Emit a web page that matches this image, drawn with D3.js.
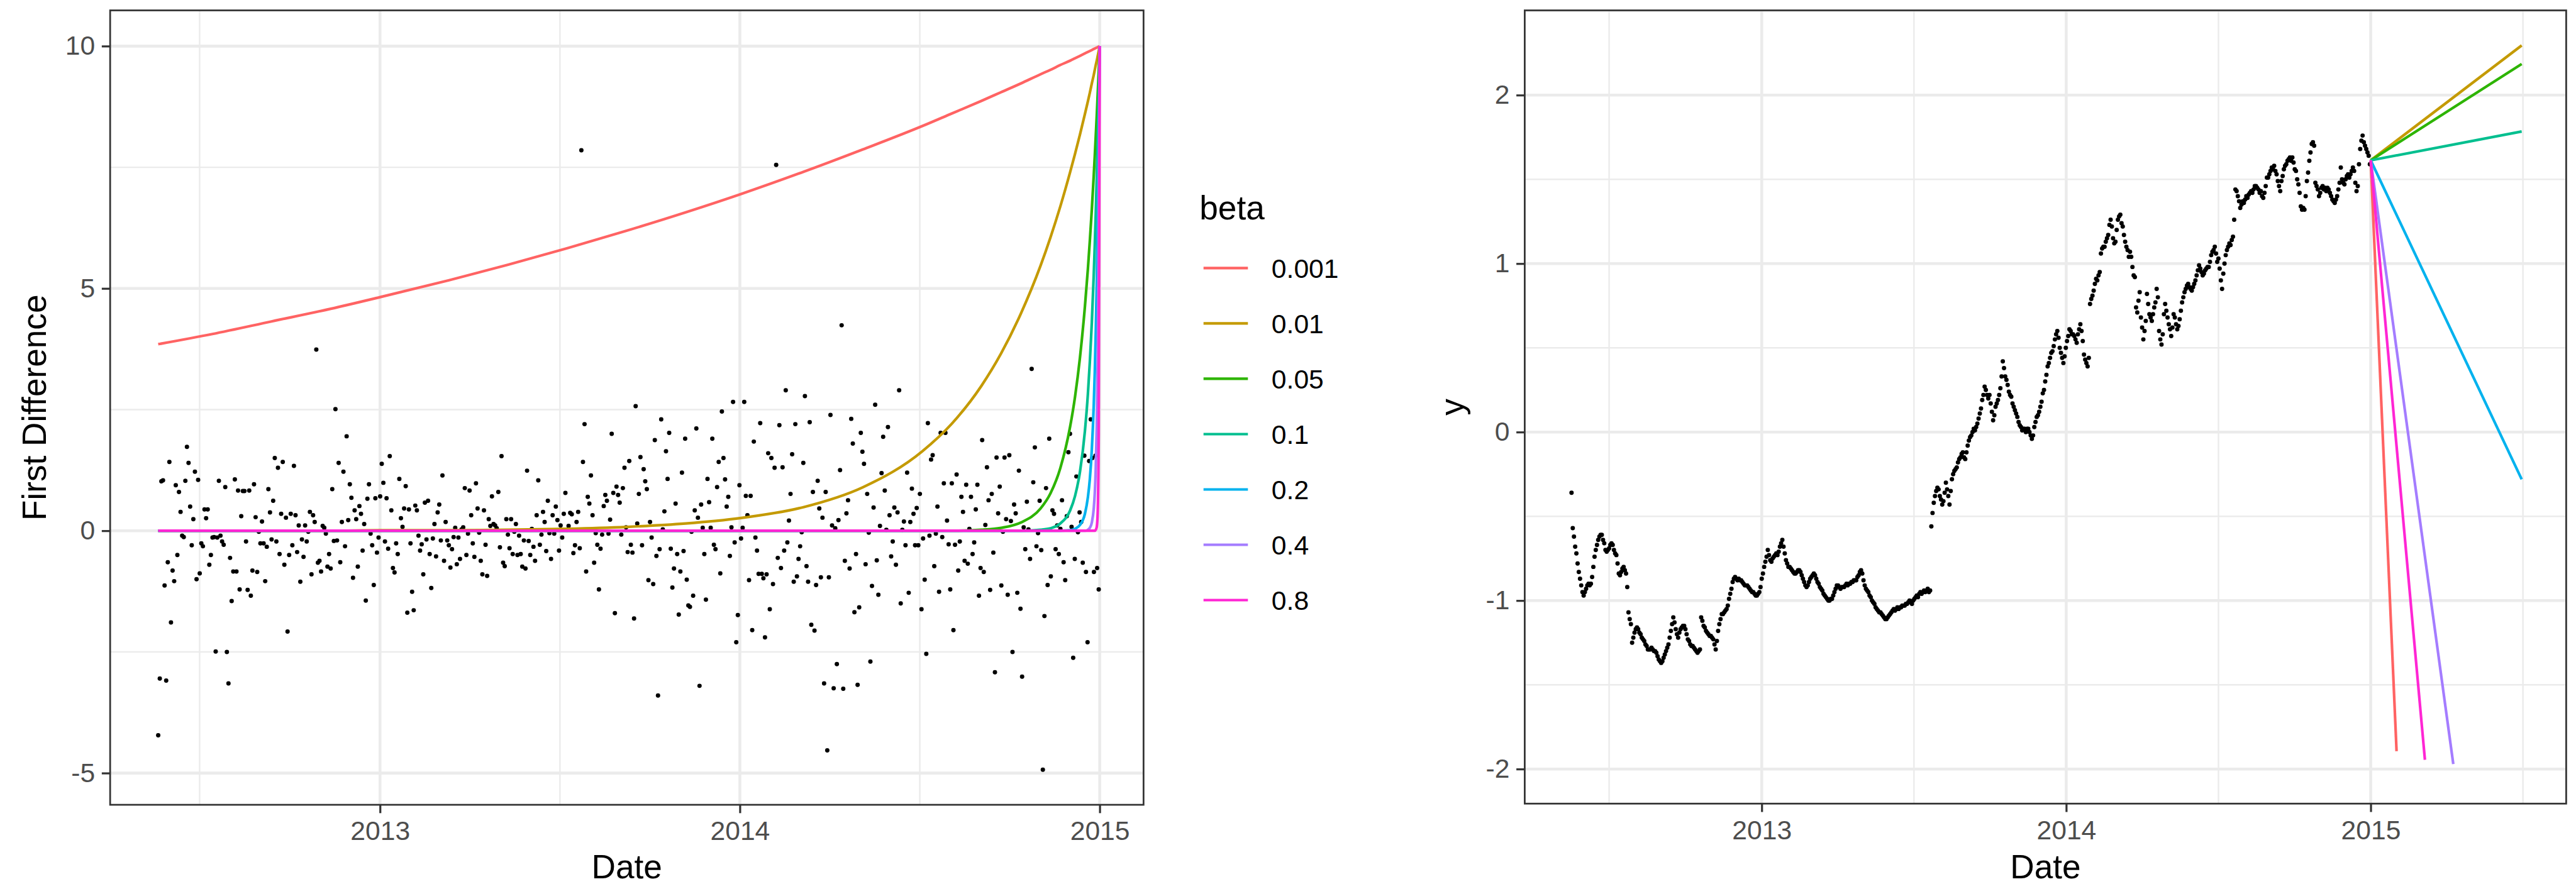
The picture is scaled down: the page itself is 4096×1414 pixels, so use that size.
<!DOCTYPE html>
<html>
<head>
<meta charset="utf-8">
<script src="https://cdn.jsdelivr.net/npm/d3@7"></script>
<style>
  html, body { margin: 0; padding: 0; background: #fff; }
  svg { display: block; }
</style>
</head>
<body>
<div id="chart"></div>
<script>
// Two ggplot-style panels: first differences with exponential weight curves (left)
// and the scaled series with straight forecast lines (right).
// Layout numbers are measured on the 4467x1542 original and scaled down to the window.

const W = 4096, H = 1414;
const k = W / 4467;
const FONT = '"Liberation Sans", Arial, Helvetica, sans-serif';

// legend
const betas = ['0.001', '0.01', '0.05', '0.1', '0.2', '0.4', '0.8'];
const betaColors = ['#FF6363', '#C49A00', '#2DB400', '#00BF8F', '#00B2EE', '#A47CFF', '#FF26D4'];

// ticks
const xTickYears = [2013, 2014, 2015];
const leftYTicks = [-5, 0, 5, 10];
const rightYTicks = [-2, -1, 0, 1, 2];

// left panel: daily first differences, first to last trading day
const diffStart = '2012-05-21', diffEnd = '2014-12-31';
const diffValues = [
  -4.22, -3.05, 1.02, 1.04, -1.13, -3.09, -0.65, 1.42, -1.89, -0.82,
  -1.04, 0.94, -0.50, 0.80, 0.39, -0.10, -0.13, 1.03, 1.73, 1.40,
  0.50, -0.30, 0.24, 1.22, -1.00, 1.05, -0.88, -0.26, -0.32, 0.44,
  0.26, 0.44, -0.70, -0.50, -0.14, -0.13, -2.49, -0.14, 1.03, -0.10,
  -0.22, -0.29, 0.90, -2.50, -3.15, -0.56, -1.45, -0.84, 1.06, -0.84,
  0.83, -1.21, 0.30, 0.82, 0.82, -0.22, -1.22, 0.83, -1.34, -0.82,
  0.96, 0.28, -0.85, -0.02, -0.26, 0.19, -0.26, -1.04, -0.33, 0.86,
  0.38, -0.18, 0.62, 1.50, -0.22, 1.30, -0.48, 0.35, 1.42, -0.70,
  0.27, -2.08, -0.50, 0.35, -0.30, 1.34, 0.32, -0.44, 0.11, -1.05,
  -0.18, -0.54, 0.11, -0.22, -0.02, 0.39, -0.90, 0.32, 0.18, 3.74,
  -0.66, -0.62, -0.84, 0.10, 0.06, -0.06, -0.74, -0.48, -0.78, 0.86,
  -0.21, 2.51, -0.20, 1.40, -0.65, 0.18, 1.22, -0.32, 1.95, 0.22,
  0.96, 0.68, -0.97, 0.42, 0.24, -0.74, 0.51, 0.35, -0.41, 0.14,
  -1.44, 0.66, 0.96, -0.06, -0.30, -1.12, 0.67, -0.45, -0.14, 0.71,
  1.38, 0.99, -0.22, 0.67, -0.37, 1.54, 0.42, -0.77, -0.86, -0.26,
  -0.48, 1.07, 0.26, 0.08, 0.46, 0.92, -1.69, 0.44, -0.26, -1.26,
  -1.64, 0.52, 0.42, -0.10, -0.41, -0.28, -0.90, 0.58, -0.18, 0.62,
  -0.48, -1.18, -0.16, 0.14, -0.53, 0.38, 0.54, -0.20, 1.14, -0.62,
  0.18, -0.20, -0.30, -0.76, -0.38, -0.13, 0.06, -0.69, -0.14, -0.58, 0.03,
  0.07, 0.88, -0.50, -0.06, 0.83, 0.32, -0.26, -0.54, 0.98, 0.46, -0.04,
  -0.62, -0.90, 0.42, -0.29, -0.93, 0.24, 0.10, 0.71, 0.14, 0.11, 0.05,
  0.80, -0.34, 1.54, -0.66, -0.73, 0.24, -0.08, -0.36, 0.24, -0.48, -0.02,
  0.14, -0.50, -0.10, -0.48, -0.74, -0.20, -0.78, 1.24, -0.21, -0.50, 0.04,
  -0.33, -0.62, 0.32, 1.04, -0.29, -0.08, 0.39, 0.18, -0.42, 0.62, -0.05,
  -0.58, 0.32, -0.06, 0.50, 0.22, -0.41, 0.11, -0.14, 0.35, 0.78, 0.02,
  0.10, 0.37, 0.34, -0.46, -0.30, 0.18, 0.39, -0.36, 7.85, 1.42,
  2.20, -0.84, 0.70, 0.56, 1.14, 0.32, -0.66, -0.05, -0.29, -1.21,
  -0.37, -0.08, 0.51, 0.74, 0.62, -0.06, 0.23, 2.00, 0.78, -1.70,
  0.91, 0.74, 0.58, -0.08, 0.88, 1.30, 0.07, -0.44, 1.44, -0.29,
  -0.45, -1.81, 2.57, 0.15, 0.76, 1.52, -0.30, 1.27, 1.02, 0.86,
  -1.02, 0.18, -0.14, -1.10, 1.87, -0.52, -3.40, -0.38, 2.30, 0.03,
  0.40, 1.64, 1.07, 2.02, -0.37, -1.17, -0.78, 0.56, -0.48, -1.73,
  -0.84, 1.20, -0.42, 1.90, -1.01, -1.54, -1.57, -0.02, -1.34, 0.42,
  2.11, 0.27, -3.20, 0.54, 0.06, -0.48, -1.42, 1.07, 0.59, 0.06,
  1.90, -0.29, -0.38, 0.90, 1.42, -0.88, 2.46, 1.50, 1.06, 0.50,
  0.70, -0.52, 0.07, 2.66, -0.24, -2.30, -1.74, 0.94, -0.16, 0.06,
  2.66, 0.72, 0.32, -1.02, 0.72, -2.05, 1.84, -0.14, -0.41, -0.89,
  2.22, -0.89, -0.98, -2.20, -0.90, 1.60, -1.62, 1.50, -1.10, 1.30,
  7.55,
  -0.56, 2.18, -0.77, 1.31, -0.41, 2.90, -0.24, 0.21, 0.76, 1.58,
  -1.05, 2.20, -0.94, -0.58, -0.32, -0.03, 1.40, 2.78, -0.73, -1.05, 2.24,
  -1.94, 0.80, -2.06, -1.12, 1.03, 0.46, -0.96, 0.27, -3.15, 0.80,
  -4.53, -0.96, 2.39, 0.11, -3.25, 0.05, -2.75, 0.22, 1.25, 4.24, -3.26,
  -0.62, 0.36, 0.63, -0.78, 2.31, 1.80, -1.68, -0.48, -3.18, -1.58,
  2.02, 1.63, 1.38, -0.69, 0.76, -0.04, -2.70, -1.14, 0.48, 2.60, -0.61,
  -1.32, 0.10, 1.19, 1.94, 0.83, 0.02, 2.14, 0.32, -0.53, -0.22,
  0.48, -0.70, 0.38, 2.90, -1.50, 0.02, 0.19, -0.30, 1.20, -1.28, 0.18,
  0.87, 0.35, -0.30, 0.47, -0.30, 0.76, -1.62, -0.16, -1.01, -2.54,
  2.22, -0.10, 1.47, 1.56, -0.73, -0.06, 0.50, -1.26, 2.02, -0.13, 0.98,
  2.02, 0.21, -0.28, -1.21, 0.98, -2.05, -0.29, 1.16, -0.82, -0.22,
  0.70, 0.39, -0.62, 0.95, -0.68, 0.04, 0.70, -0.48, -0.24, 0.44, 0.95,
  -1.34, -0.77, 1.87, -0.85, 0.12, 1.31, 0.63, -1.22, 0.76, -0.45,
  -2.92, 1.51, 0.36, 0.91, -1.13, -0.02, 1.51, 0.24, -1.32, 1.56, 0.20,
  -2.50, 0.54, 0.36, -1.28, 1.24, -1.61, -3.01, 0.07, -0.38, 0.60, 0.03,
  -0.58, 3.34, 1.00, 1.72, -0.32, -0.05, 0.62, -0.40, -4.93, -1.76, 0.88,
  -1.12, 1.90, -0.94, 0.42, 0.35, -0.38, 0.11, -0.48, 0.04, 0.63, -0.65,
  -1.02, 0.30, 1.62, 2.00, 0.08, -2.62, -0.58, 1.12, -0.03, 0.38, 0.18,
  -0.66, 1.55, -0.85, -2.30, 1.44, 2.30, 1.50, -0.85, 1.55, -0.77,
  -1.21
];

// left panel: weight curves, knots given as days before the forecast origin
const weightOrigin = '2015-01-01';
const weightDays = [955, 900, 840, 780, 730, 660, 600, 540, 480, 420, 365, 300, 240, 180, 150, 120, 100,
  80, 60, 50, 40, 30, 25, 20, 15, 12, 10, 8, 6, 5, 4, 3, 2, 1, 0];
const weight001 = [3.85, 4.06, 4.32, 4.58, 4.82, 5.17, 5.49, 5.83, 6.19, 6.57, 6.94, 7.41, 7.87, 8.35, 8.61, 8.87, 9.05,
  9.23, 9.42, 9.51, 9.61, 9.70, 9.75, 9.80, 9.85, 9.88, 9.90, 9.92, 9.94, 9.95, 9.96, 9.97, 9.98, 9.99, 10];
const weight01 = [0, 0, 0, 0, 0.01, 0.01, 0.02, 0.04, 0.08, 0.15, 0.26, 0.49, 0.90, 1.64, 2.21, 2.99, 3.66,
  4.48, 5.47, 6.05, 6.69, 7.40, 7.78, 8.18, 8.60, 8.86, 9.04, 9.23, 9.41, 9.51, 9.61, 9.70, 9.80, 9.90, 10];
const weight05 = [0, 0, 0, 0, 0, 0, 0, 0, 0, 0, 0, 0, 0, 0, 0, 0.02, 0.06,
  0.17, 0.46, 0.77, 1.29, 2.15, 2.77, 3.58, 4.63, 5.40, 5.99, 6.63, 7.35, 7.74, 8.15, 8.57, 9.03, 9.50, 10];
const weight1 = [0, 0, 0, 0, 0, 0, 0, 0, 0, 0, 0, 0, 0, 0, 0, 0, 0,
  0, 0.02, 0.05, 0.15, 0.42, 0.72, 1.22, 2.06, 2.82, 3.49, 4.30, 5.31, 5.90, 6.56, 7.29, 8.10, 9.00, 10];
const weight2 = [0, 0, 0, 0, 0, 0, 0, 0, 0, 0, 0, 0, 0, 0, 0, 0, 0,
  0, 0, 0, 0, 0.01, 0.04, 0.12, 0.35, 0.69, 1.07, 1.68, 2.62, 3.28, 4.10, 5.12, 6.40, 8.00, 10];
const weight4 = [0, 0, 0, 0, 0, 0, 0, 0, 0, 0, 0, 0, 0, 0, 0, 0, 0,
  0, 0, 0, 0, 0, 0, 0, 0, 0.02, 0.06, 0.17, 0.47, 0.78, 1.30, 2.16, 3.60, 6.00, 10];
const weight8 = [0, 0, 0, 0, 0, 0, 0, 0, 0, 0, 0, 0, 0, 0, 0, 0, 0,
  0, 0, 0, 0, 0, 0, 0, 0, 0, 0, 0, 0, 0, 0.02, 0.08, 0.40, 2.00, 10];

// right panel: scaled daily series
const levelStart = '2012-05-18', levelEnd = '2014-12-31';
const levelValues = [
  -0.36, -0.57, -0.62, -0.68, -0.72, -0.78, -0.83, -0.87, -0.91, -0.95,
  -0.97, -0.95, -0.93, -0.91, -0.90, -0.91, -0.90, -0.86, -0.80, -0.74,
  -0.70, -0.67, -0.64, -0.62, -0.61, -0.61, -0.64, -0.66, -0.70, -0.71,
  -0.70, -0.69, -0.67, -0.66, -0.67, -0.70, -0.72, -0.73, -0.78, -0.84,
  -0.85, -0.83, -0.81, -0.80, -0.82, -0.84, -0.92, -1.07, -1.11, -1.14,
  -1.25, -1.22, -1.19, -1.17, -1.16, -1.17, -1.19, -1.20, -1.22, -1.23,
  -1.24, -1.26, -1.27, -1.29, -1.29, -1.29, -1.28, -1.29, -1.30, -1.30,
  -1.31, -1.33, -1.35, -1.36, -1.37, -1.36, -1.34, -1.32, -1.30, -1.28,
  -1.26, -1.22, -1.18, -1.14, -1.10, -1.13, -1.17, -1.20, -1.22, -1.19,
  -1.17, -1.16, -1.15, -1.15, -1.17, -1.20, -1.23, -1.24, -1.26, -1.27,
  -1.27, -1.28, -1.29, -1.30, -1.31, -1.30, -1.29, -1.10, -1.12, -1.15,
  -1.16, -1.18, -1.19, -1.20, -1.21, -1.21, -1.22, -1.23, -1.26, -1.29,
  -1.24, -1.18, -1.14, -1.11, -1.08, -1.08, -1.07, -1.06, -1.05, -1.03,
  -0.99, -0.96, -0.93, -0.89, -0.87, -0.86, -0.87, -0.88, -0.87, -0.88,
  -0.88, -0.89, -0.90, -0.91, -0.91, -0.91, -0.92, -0.93, -0.94, -0.95,
  -0.95, -0.96, -0.97, -0.97, -0.96, -0.95, -0.92, -0.87, -0.84, -0.80,
  -0.77, -0.74, -0.70, -0.73, -0.76, -0.77, -0.75, -0.74, -0.73, -0.72,
  -0.73, -0.71, -0.68, -0.66, -0.64, -0.68, -0.72, -0.76, -0.78, -0.80,
  -0.80, -0.81, -0.82, -0.83, -0.84, -0.84, -0.83, -0.82, -0.82, -0.83,
  -0.85, -0.87, -0.89, -0.91, -0.92, -0.91, -0.89, -0.87, -0.86, -0.85,
  -0.84, -0.85, -0.87, -0.89, -0.90, -0.92, -0.93, -0.94, -0.96, -0.97,
  -0.98, -0.99, -1.00, -1.00, -0.99, -0.99, -0.97, -0.95, -0.93, -0.91,
  -0.91, -0.92, -0.93, -0.92, -0.92, -0.92, -0.91, -0.90, -0.91, -0.90,
  -0.90, -0.89, -0.89, -0.88, -0.88, -0.88, -0.86, -0.85, -0.83, -0.82,
  -0.84, -0.88, -0.91, -0.93, -0.94, -0.95, -0.97, -0.98, -1.00, -1.01,
  -1.02, -1.04, -1.05, -1.06, -1.07, -1.07, -1.08, -1.09, -1.10, -1.11,
  -1.11, -1.10, -1.09, -1.08, -1.07, -1.06, -1.05, -1.06, -1.05, -1.04,
  -1.05, -1.04, -1.04, -1.03, -1.03, -1.03, -1.02, -1.02, -1.01, -1.00,
  -1.01, -1.02, -1.00, -0.99, -0.98, -0.97, -0.98, -0.96, -0.95, -0.96,
  -0.95, -0.94, -0.95, -0.94, -0.93, -0.95, -0.94, -0.56, -0.48, -0.42,
  -0.38, -0.35, -0.33, -0.34, -0.38, -0.40, -0.43, -0.41, -0.36, -0.30,
  -0.34, -0.38, -0.43, -0.35, -0.28, -0.25, -0.23, -0.22, -0.21, -0.18,
  -0.16, -0.15, -0.13, -0.12, -0.15, -0.16, -0.12, -0.08, -0.05, -0.03,
  -0.02, 0.00, 0.02, 0.01, 0.03, 0.05, 0.08, 0.11, 0.14, 0.19,
  0.22, 0.27, 0.25, 0.22, 0.20, 0.22, 0.17, 0.12, 0.07, 0.10,
  0.15, 0.17, 0.19, 0.22, 0.26, 0.33, 0.42, 0.38, 0.33, 0.31,
  0.28, 0.24, 0.22, 0.21, 0.17, 0.15, 0.13, 0.11, 0.09, 0.06,
  0.04, 0.03, 0.01, 0.02, 0.02, 0.00, 0.02, 0.02, 0.00, -0.02,
  -0.04, -0.02, 0.03, 0.06, 0.09, 0.10, 0.12, 0.15, 0.18, 0.23,
  0.25, 0.30, 0.34, 0.39, 0.41, 0.44, 0.47, 0.48, 0.51, 0.55,
  0.58, 0.60, 0.56, 0.50, 0.47, 0.44, 0.41, 0.45, 0.50, 0.54,
  0.57, 0.61, 0.60, 0.58, 0.58, 0.57, 0.55, 0.53, 0.58, 0.61,
  0.64, 0.60, 0.54, 0.46, 0.43, 0.41, 0.39, 0.44, 0.76, 0.79,
  0.81, 0.84, 0.88, 0.91, 0.90, 0.93, 0.95, 1.06, 1.09, 1.10,
  1.10, 1.13, 1.15, 1.17, 1.23, 1.26, 1.22, 1.15, 1.12, 1.13,
  1.20, 1.26, 1.28, 1.29, 1.24, 1.22, 1.17, 1.13, 1.10, 1.08,
  1.04, 1.07, 1.04, 0.98, 0.93, 0.92, 0.74, 0.71, 0.78, 0.83,
  0.68, 0.62, 0.55, 0.60, 0.66, 0.82, 0.76, 0.70, 0.68, 0.66,
  0.70, 0.74, 0.77, 0.85, 0.80, 0.60, 0.55, 0.52, 0.58, 0.70,
  0.76, 0.72, 0.68, 0.64, 0.61, 0.57, 0.62, 0.70, 0.68, 0.64,
  0.61, 0.63, 0.67, 0.72, 0.77, 0.80, 0.83, 0.85, 0.87, 0.88,
  0.86, 0.85, 0.84, 0.86, 0.88, 0.90, 0.93, 0.96, 0.99, 0.97,
  0.95, 0.93, 0.94, 0.96, 0.97, 0.98, 0.98, 1.01, 1.05, 1.07,
  1.08, 1.10, 1.06, 1.01, 1.03, 0.97, 0.90, 0.85, 0.94, 1.00,
  1.05, 1.08, 1.10, 1.12, 1.11, 1.14, 1.16, 1.26, 1.44, 1.43,
  1.40, 1.37, 1.33, 1.35, 1.37, 1.36, 1.38, 1.40, 1.39, 1.41,
  1.42, 1.43, 1.42, 1.44, 1.46, 1.46, 1.45, 1.44, 1.42, 1.43,
  1.40, 1.39, 1.42, 1.46, 1.51, 1.51, 1.53, 1.55, 1.57, 1.56,
  1.58, 1.55, 1.53, 1.49, 1.46, 1.43, 1.49, 1.52, 1.56, 1.58,
  1.59, 1.61, 1.62, 1.63, 1.61, 1.63, 1.60, 1.56, 1.55, 1.50,
  1.47, 1.42, 1.34, 1.32, 1.33, 1.32, 1.40, 1.49, 1.54, 1.61,
  1.66, 1.71, 1.72, 1.70, 1.48, 1.46, 1.44, 1.40, 1.42, 1.45,
  1.46, 1.44, 1.45, 1.43, 1.45, 1.44, 1.42, 1.40, 1.38, 1.37,
  1.36, 1.38, 1.40, 1.44, 1.48, 1.57, 1.50, 1.48, 1.47, 1.50,
  1.52, 1.53, 1.51, 1.53, 1.55, 1.57, 1.55, 1.48, 1.43, 1.46,
  1.59, 1.68, 1.73, 1.76, 1.72, 1.70, 1.68, 1.66, 1.64, 1.59
];

// right panel: straight forecast lines from the origin to each end point
const forecastOrigin = '2015-01-01';
const forecastOriginValue = 1.613;
const forecastEndDates = ['2015-02-01', '2015-07-01', '2015-07-01', '2015-07-01', '2015-07-01', '2015-04-10', '2015-03-07'];
const forecastEndValues = [-1.894, 2.295, 2.185, 1.784, -0.28, -1.97, -1.945];

// ---------------------------------------------------------------------------

const parseDay = d3.utcParse('%Y-%m-%d');
const yearDate = y => new Date(Date.UTC(y, 0, 1));

// panel boxes in original pixels
const leftBox = { x0: 191, x1: 1983, y0: 18, y1: 1396 };
const rightBox = { x0: 2644, x1: 4450, y0: 18, y1: 1394 };

const xL = d3.scaleUtc().domain([yearDate(2013), yearDate(2015)]).range([659, 1907]);
const yL = d3.scaleLinear().domain([-5, 10]).range([1341, 80]);
const xR = d3.scaleUtc().domain([yearDate(2013), yearDate(2015)]).range([3055, 4111]);
const yR = d3.scaleLinear().domain([-2, 2]).range([1334, 165]);

const svg = d3.select('#chart').append('svg')
    .attr('width', W)
    .attr('height', H)
    .style('font-family', FONT);
svg.append('rect').attr('width', W).attr('height', H).attr('fill', '#fff');
const root = svg.append('g').attr('transform', `scale(${k})`);
const defs = svg.append('defs');

// spread a series evenly over its first..last date
function spreadDates(start, end, n) {
    const t0 = parseDay(start).getTime(), t1 = parseDay(end).getTime();
    return d3.range(n).map(i => new Date(t0 + (t1 - t0) * i / (n - 1)));
}

function midpoints(vals) {
    const out = [];
    for (let i = 0; i < vals.length - 1; i++) out.push((vals[i] + vals[i + 1]) / 2);
    return out;
}

function drawPanel(box, x, y, yTicks, id) {
    const panel = root.append('g');

    defs.append('clipPath').attr('id', id)
        .append('rect')
        .attr('x', box.x0 * k).attr('y', box.y0 * k)
        .attr('width', (box.x1 - box.x0) * k).attr('height', (box.y1 - box.y0) * k);

    const grid = panel.append('g');
    const inX = v => v > box.x0 + 1 && v < box.x1 - 1;
    const inY = v => v > box.y0 - 1 && v < box.y1 + 1;

    // minor grid: midway between major breaks, one step past each end as ggplot does
    const yearsExt = [xTickYears[0] - 1, ...xTickYears, xTickYears[xTickYears.length - 1] + 1];
    const xMinor = midpoints(yearsExt.map(yv => x(yearDate(yv)))).filter(inX);
    const step = yTicks[1] - yTicks[0];
    const yExt = [yTicks[0] - step, ...yTicks, yTicks[yTicks.length - 1] + step];
    const yMinor = midpoints(yExt).map(v => y(v)).filter(inY);

    grid.selectAll('.xminor').data(xMinor).enter().append('line')
        .attr('x1', d => d).attr('x2', d => d).attr('y1', box.y0).attr('y2', box.y1)
        .attr('stroke', '#EBEBEB').attr('stroke-width', 2.6);
    grid.selectAll('.yminor').data(yMinor).enter().append('line')
        .attr('x1', box.x0).attr('x2', box.x1).attr('y1', d => d).attr('y2', d => d)
        .attr('stroke', '#EBEBEB').attr('stroke-width', 2.6);
    grid.selectAll('.xmajor').data(xTickYears.map(yv => x(yearDate(yv))).filter(inX)).enter().append('line')
        .attr('x1', d => d).attr('x2', d => d).attr('y1', box.y0).attr('y2', box.y1)
        .attr('stroke', '#EBEBEB').attr('stroke-width', 5);
    grid.selectAll('.ymajor').data(yTicks.map(v => y(v)).filter(inY)).enter().append('line')
        .attr('x1', box.x0).attr('x2', box.x1).attr('y1', d => d).attr('y2', d => d)
        .attr('stroke', '#EBEBEB').attr('stroke-width', 5);

    // axes
    const xAxis = panel.append('g')
        .attr('transform', `translate(0,${box.y1})`)
        .call(d3.axisBottom(x)
            .tickValues(xTickYears.map(yearDate))
            .tickFormat(d3.utcFormat('%Y'))
            .tickSize(14.5)
            .tickPadding(14));
    const yAxis = panel.append('g')
        .attr('transform', `translate(${box.x0},0)`)
        .call(d3.axisLeft(y)
            .tickValues(yTicks)
            .tickFormat(d => String(d))
            .tickSize(14.5)
            .tickPadding(11.6));
    [xAxis, yAxis].forEach(a => {
        a.attr('font-family', FONT).attr('font-size', 46.5);
        a.select('.domain').remove();
        a.selectAll('.tick line').attr('stroke', '#333333').attr('stroke-width', 3.5);
        a.selectAll('.tick text').attr('fill', '#4D4D4D');
    });

    const plot = panel.append('g').attr('clip-path', `url(#${id})`);
    // clip path lives in window pixels, so the plot group is reset to unscaled space
    plot.attr('transform', `scale(${1 / k})`);
    const inner = plot.append('g').attr('transform', `scale(${k})`);

    return { panel, inner };
}

// ---------------- left panel ----------------
const left = drawPanel(leftBox, xL, yL, leftYTicks, 'clipL');
const diffDates = spreadDates(diffStart, diffEnd, diffValues.length);

left.inner.append('g').selectAll('circle')
    .data(diffValues)
    .enter()
    .append('circle')
    .attr('cx', (d, i) => xL(diffDates[i]))
    .attr('cy', d => yL(d))
    .attr('r', 3.8)
    .attr('fill', '#000');

const weightSeries = [weight001, weight01, weight05, weight1, weight2, weight4, weight8];
const origin = parseDay(weightOrigin);
const weightLine = d3.line()
    .x(d => xL(d3.utcDay.offset(origin, -d.days)))
    .y(d => yL(d.value))
    .curve(d3.curveMonotoneX);

weightSeries.forEach((vals, s) => {
    const pts = weightDays.map((days, i) => ({ days, value: vals[i] }));
    left.inner.append('path')
        .datum(pts)
        .attr('d', weightLine)
        .attr('fill', 'none')
        .attr('stroke', betaColors[s])
        .attr('stroke-width', 4.6)
        .attr('stroke-linejoin', 'round');
});

left.panel.append('rect')
    .attr('x', leftBox.x0).attr('y', leftBox.y0)
    .attr('width', leftBox.x1 - leftBox.x0).attr('height', leftBox.y1 - leftBox.y0)
    .attr('fill', 'none').attr('stroke', '#333333').attr('stroke-width', 3);

// ---------------- right panel ----------------
const right = drawPanel(rightBox, xR, yR, rightYTicks, 'clipR');
const levelDates = spreadDates(levelStart, levelEnd, levelValues.length);

right.inner.append('g').selectAll('circle')
    .data(levelValues)
    .enter()
    .append('circle')
    .attr('cx', (d, i) => xR(levelDates[i]))
    .attr('cy', d => yR(d))
    .attr('r', 3.8)
    .attr('fill', '#000');

const fcOrigin = parseDay(forecastOrigin);
forecastEndDates.forEach((end, s) => {
    right.inner.append('line')
        .attr('x1', xR(fcOrigin))
        .attr('y1', yR(forecastOriginValue))
        .attr('x2', xR(parseDay(end)))
        .attr('y2', yR(forecastEndValues[s]))
        .attr('stroke', betaColors[s])
        .attr('stroke-width', 4.6);
});

right.panel.append('rect')
    .attr('x', rightBox.x0).attr('y', rightBox.y0)
    .attr('width', rightBox.x1 - rightBox.x0).attr('height', rightBox.y1 - rightBox.y0)
    .attr('fill', 'none').attr('stroke', '#333333').attr('stroke-width', 3);

// ---------------- axis titles ----------------
root.append('text')
    .attr('x', (leftBox.x0 + leftBox.x1) / 2).attr('y', 1524)
    .attr('text-anchor', 'middle').attr('font-size', 58).attr('fill', '#000')
    .text('Date');
root.append('text')
    .attr('x', (rightBox.x0 + rightBox.x1) / 2).attr('y', 1524)
    .attr('text-anchor', 'middle').attr('font-size', 58).attr('fill', '#000')
    .text('Date');
root.append('text')
    .attr('transform', `translate(80,${(leftBox.y0 + leftBox.y1) / 2}) rotate(-90)`)
    .attr('text-anchor', 'middle').attr('font-size', 58).attr('fill', '#000')
    .text('First Difference');
root.append('text')
    .attr('transform', `translate(2538,${(rightBox.y0 + rightBox.y1) / 2}) rotate(-90)`)
    .attr('text-anchor', 'middle').attr('font-size', 58).attr('fill', '#000')
    .text('y');

// ---------------- legend ----------------
const legend = root.append('g');
legend.append('text')
    .attr('x', 2080).attr('y', 381)
    .attr('font-size', 58).attr('fill', '#000')
    .text('beta');

const keys = legend.selectAll('.key')
    .data(betas)
    .enter()
    .append('g')
    .attr('class', 'key')
    .attr('transform', (d, i) => `translate(0,${465 + i * 96})`);
keys.append('line')
    .attr('x1', 2087).attr('x2', 2164)
    .attr('stroke', (d, i) => betaColors[i])
    .attr('stroke-width', 4.5);
keys.append('text')
    .attr('x', 2205).attr('dy', '0.36em')
    .attr('font-size', 46.5).attr('fill', '#000')
    .text(d => d);
</script>
</body>
</html>
